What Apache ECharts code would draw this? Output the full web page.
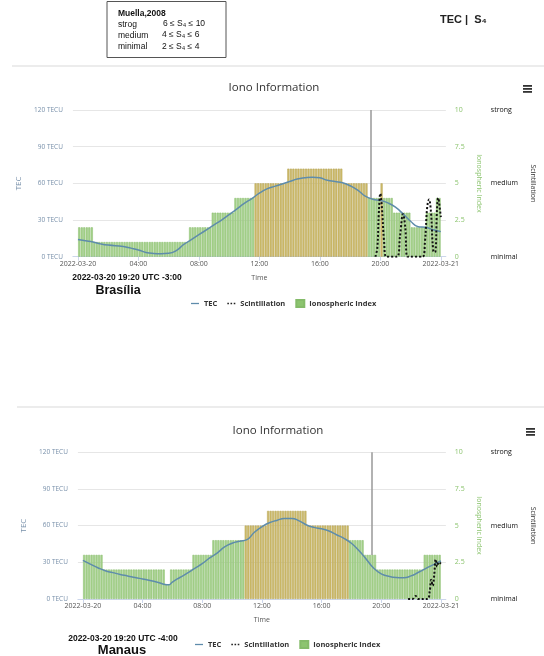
<!DOCTYPE html>
<html><head><meta charset="utf-8">
<script src="https://cdn.jsdelivr.net/npm/echarts@6/dist/echarts.min.js"></script>
<style>html,body{margin:0;padding:0;background:#fff}#c{width:544px;height:656px}</style>
</head><body><div id="c"></div>
<script>
// ---------- data ----------
const xTickHours = [0, 4, 8, 12, 16, 20, 24];
const xTickLabels = ['2022-03-20', '04:00', '08:00', '12:00', '16:00', '20:00', '2022-03-21'];
const scintLevelLabels = { 0: 'minimal', 5: 'medium', 10: 'strong' };
const markerHour = 19 + 20 / 60;   // 19:20
const slotMinutes = 10;             // ionospheric index sampled every 10 min

// Brasília
const ionoTop = [
  2,2,2,2,2,2,1,1,1,1,1,1,
  1,1,1,1,1,1,1,1,1,1,1,1,
  1,1,1,1,1,1,1,1,1,1,1,1,
  1,1,1,1,1,1,1,1,2,2,2,2,
  2,2,2,2,2,3,3,3,3,3,3,3,
  3,3,4,4,4,4,4,4,4,4,5,5,
  5,5,5,5,5,5,5,5,5,5,5,6,
  6,6,6,6,6,6,6,6,6,6,6,6,
  6,6,6,6,6,6,6,6,6,5,5,5,
  5,5,5,5,5,5,5,4,4,4,4,4,
  5,4,4,4,4,3,3,3,3,3,3,3,
  2,2,2,2,2,2,3,3,3,3,4,4
];
const tecHoursTop = [0,0.5,1,1.5,2,3,3.5,4,4.5,5,5.5,6,6.5,7,7.5,8,8.5,9,9.5,10,10.5,11,11.5,12,12.5,13,13.5,14,14.5,15,15.5,16,16.5,17,17.5,18,18.5,19,19.5,20,20.5,21,21.5,22,22.5,23,23.5,24];
const tecTop = [14,13,12,10.5,9.5,8.3,7,5.5,3.5,2.7,2.5,2.8,5,10,14,18,22,26,30,34.5,39,43.6,47.5,52,55.5,57.5,59.5,61.5,63.5,64.5,65,64.5,62.5,61.5,60.5,58,54.5,49.5,47,46,44,40.5,35,29,24.5,24,22,20.5];
const scintHoursTop = [19.67,19.8,19.9,20.0,20.1,20.25,20.4,21.1,21.3,21.5,21.65,21.8,22.8,22.95,23.1,23.22,23.35,23.5,23.62,23.75,23.83,23.92,24];
const scintTop = [0,0.6,3,4.3,3.4,1,0,0,1.4,2.9,2,0,0,1,3.4,3.9,3,0.4,0.3,3.3,4,3.4,2.7];

// Manaus
const ionoBottom = [
  3,3,3,3,3,3,3,3,2,2,2,2,
  2,2,2,2,2,2,2,2,2,2,2,2,
  2,2,2,2,2,2,2,2,2,1,1,2,
  2,2,2,2,2,2,2,2,3,3,3,3,
  3,3,3,3,4,4,4,4,4,4,4,4,
  4,4,4,4,4,5,5,5,5,5,5,5,
  5,5,6,6,6,6,6,6,6,6,6,6,
  6,6,6,6,6,6,5,5,5,5,5,5,
  5,5,5,5,5,5,5,5,5,5,5,4,
  4,4,4,4,4,3,3,3,3,3,2,2,
  2,2,2,2,2,2,2,2,2,2,2,2,
  2,2,2,2,2,3,3,3,3,3,3,3
];
const tecHoursBottom = [0,0.5,1,1.5,2,2.5,3,3.5,4,4.5,5,5.5,5.75,6,6.5,7,7.5,8,8.5,9,9.5,10,10.5,11,11.5,12,12.5,13,13.5,14,14.5,15,15.5,16,16.5,17,17.5,18,18.5,19,19.5,20,20.5,21,21.5,22,22.5,23,23.5,24];
const tecBottom = [31.5,28.5,25.5,23,21.5,20,18.8,17.5,16.3,15.1,13.6,11.8,11.5,13.8,17.5,21,25,28.8,33.5,37.5,42.5,45.5,47.2,48.5,54.5,59,62.3,64.2,65.8,65.8,63.8,60.5,58.5,57.3,55.5,52.5,49.5,45.5,39.5,32.5,25,20.5,18.5,17.5,17.3,18.8,21.8,25,28,31];
const scintHoursBottom = [21.8,22.1,22.3,22.5,23.1,23.25,23.35,23.45,23.55,23.65,23.75,23.85,24];
const scintBottom = [0,0,0.2,0,0,0.5,1.3,0.9,1.6,2.7,2.2,2.5,2.4];

// ---------- styles ----------
const FONT = '"Open Sans", "DejaVu Sans", sans-serif';
const ARIAL = '"Liberation Sans", Arial, sans-serif';
const GREEN = '#a9d48f', GREEN_B = '#84bb69';
const KHAKI = '#d0bd6c', KHAKI_B = '#b3a04e';
const TEC_C = '#5e8cab';
const LEFT_LAB = '#7890aa';
const RIGHT_LAB = '#8cc46f';

function pairs(h, v) { return h.map((x, i) => [x, v[i]]); }
function bars(vals) {
  return vals.map((v, i) => ({
    value: [(i * slotMinutes + slotMinutes / 2) / 60, v],
    itemStyle: v >= 5 ? { color: KHAKI, borderColor: KHAKI_B } : undefined
  }));
}

const grids = [
  { left: 72.9, top: 110, width: 374.2, height: 146.7 },
  { left: 77.9, top: 452.2, width: 374.2, height: 146.7 }
];

function xAxisFor(gi) {
  return {
    type: 'value', gridIndex: gi, min: -1/3, max: 24 + 1/3,
    name: 'Time', nameLocation: 'middle', nameGap: 18,
    nameTextStyle: { fontSize: 7, color: '#555', fontFamily: FONT },
    axisLine: { lineStyle: { color: '#ccd6eb' } },
    axisTick: { show: true, length: 4, lineStyle: { color: '#ccd6eb' }, customValues: xTickHours },
    splitLine: { show: false },
    axisLabel: {
      customValues: xTickHours, margin: 4, fontSize: 7, color: '#555', fontFamily: FONT,
      formatter: v => xTickLabels[xTickHours.indexOf(Math.round(v))] || ''
    }
  };
}
function yAxesFor(gi) {
  return [
    { type: 'value', gridIndex: gi, position: 'left', min: 0, max: 120, interval: 30,
      name: 'TEC', nameLocation: 'middle', nameGap: 39, nameRotate: 90,
      nameTextStyle: { fontSize: 8, color: LEFT_LAB, fontFamily: FONT },
      axisLabel: { formatter: '{value} TECU', fontSize: 6.5, color: LEFT_LAB, margin: 10, fontFamily: FONT },
      axisLine: { show: false }, axisTick: { show: false },
      splitLine: { lineStyle: { color: '#e6e6e6', width: 1 } } },
    { type: 'value', gridIndex: gi, position: 'right', min: 0, max: 10, interval: 2.5,
      name: 'Ionospheric Index', nameLocation: 'middle', nameGap: 23, nameRotate: -90,
      nameTextStyle: { fontSize: 7, color: RIGHT_LAB, fontFamily: FONT },
      axisLabel: { fontSize: 7, color: RIGHT_LAB, margin: 9, fontFamily: FONT },
      axisLine: { show: false }, axisTick: { show: false }, splitLine: { show: false } },
    { type: 'value', gridIndex: gi, position: 'right', min: 0, max: 10, interval: 5,
      name: 'Scintillation', nameLocation: 'middle', nameGap: 71, nameRotate: -90,
      nameTextStyle: { fontSize: 7, color: '#333', fontFamily: FONT },
      axisLabel: { fontSize: 7, color: '#111', margin: 45, fontFamily: FONT,
        formatter: v => scintLevelLabels[v] || '' },
      axisLine: { show: false }, axisTick: { show: false }, splitLine: { show: false } }
  ];
}
function seriesFor(gi, iono, tecH, tec, scH, sc) {
  const yb = gi * 3;
  // the "now" marker is hidden behind the bars, so it is visible from the top of the plot down to the bar at 19:20
  const barAtMarker = iono[Math.floor(markerHour * 60 / slotMinutes)];
  return [
    { type: 'line', xAxisIndex: gi, yAxisIndex: yb + 1, data: [], z: 1, silent: true,
      markLine: { symbol: ['none', 'none'], silent: true, label: { show: false },
        lineStyle: { color: '#999', width: 1.5, type: 'solid' },
        data: [[{ coord: [markerHour, 10] }, { coord: [markerHour, barAtMarker] }]] } },
    { name: 'Ionospheric Index', type: 'bar', xAxisIndex: gi, yAxisIndex: yb + 1,
      data: bars(iono), barCategoryGap: '18%', z: 2,
      itemStyle: { color: GREEN, borderColor: GREEN_B, borderWidth: 0.5 } },
    { name: 'TEC', type: 'line', xAxisIndex: gi, yAxisIndex: yb, data: pairs(tecH, tec),
      smooth: true, symbol: 'none', z: 3, color: TEC_C, lineStyle: { color: TEC_C, width: 1.5 } },
    { name: 'Scintillation', type: 'line', xAxisIndex: gi, yAxisIndex: yb + 1, data: pairs(scH, sc),
      smooth: 0.4, symbol: 'none', z: 4, color: '#111', lineStyle: { color: '#111', width: 2, type: 'dotted' } }
  ];
}
function legendFor(left, top) {
  return {
    left, top, itemWidth: 8, itemHeight: 7, itemGap: 10, symbolKeepAspect: true,
    data: [
      { name: 'TEC', icon: 'path://M0,0h10v1.6h-10z', itemStyle: { color: TEC_C } },
      { name: 'Scintillation', icon: 'path://M0,0h2v2h-2z M4,0h2v2h-2z M8,0h2v2h-2z', itemStyle: { color: '#222' } },
      { name: 'Ionospheric Index', icon: 'rect', itemStyle: { color: '#8cc46f' } }
    ],
    textStyle: { fontSize: 7.5, fontWeight: 'bold', color: '#333', fontFamily: FONT }
  };
}
function hamburger(x, y) {
  return [0, 3, 6].map(d => ({ type: 'rect', shape: { x, y: y + d, width: 9, height: 1.8 }, style: { fill: '#333' } }));
}
function txt(text, x, y, size, weight, family, align, color) {
  return { type: 'text', x, y, style: { text, fontSize: size, fontWeight: weight || 'normal',
    fontFamily: family || FONT, fill: color || '#222', align: align || 'center', verticalAlign: 'middle' } };
}

const graphic = [
  { type: 'line', shape: { x1: 12, y1: 66, x2: 544, y2: 66 }, style: { stroke: '#e6e6e6', lineWidth: 1.5 } },
  { type: 'line', shape: { x1: 17, y1: 407, x2: 544, y2: 407 }, style: { stroke: '#e6e6e6', lineWidth: 1.5 } },
  { type: 'rect', shape: { x: 107, y: 1.5, width: 119, height: 56 }, style: { fill: 'none', stroke: '#555', lineWidth: 1 } },
  txt('Muella,2008', 118, 14, 8.5, 'bold', ARIAL, 'left', '#111'),
  txt('strog', 118, 25, 8.5, 'normal', ARIAL, 'left', '#111'),
  txt('medium', 118, 36, 8.5, 'normal', ARIAL, 'left', '#111'),
  txt('minimal', 118, 47, 8.5, 'normal', ARIAL, 'left', '#111'),
  txt('6 ≤ S₄ ≤ 10', 163, 24, 8.5, 'normal', ARIAL, 'left', '#111'),
  txt('4 ≤ S₄ ≤ 6', 162, 35, 8.5, 'normal', ARIAL, 'left', '#111'),
  txt('2 ≤ S₄ ≤ 4', 162, 47, 8.5, 'normal', ARIAL, 'left', '#111'),
  txt('TEC |  S₄', 440, 20, 11, 'bold', ARIAL, 'left', '#222'),
  txt('Iono Information', 274, 88, 11.5, 'normal', FONT, 'center', '#333'),
  txt('Iono Information', 278, 431, 11.5, 'normal', FONT, 'center', '#333'),
  ...hamburger(523, 85),
  ...hamburger(526, 428),
  txt('2022-03-20 19:20 UTC -3:00', 127, 278, 8.5, 'bold', ARIAL, 'center', '#111'),
  txt('Brasília', 118, 291, 12.5, 'bold', ARIAL, 'center', '#111'),
  txt('2022-03-20 19:20 UTC -4:00', 123, 639, 8.5, 'bold', ARIAL, 'center', '#111'),
  txt('Manaus', 122, 650.5, 13, 'bold', ARIAL, 'center', '#111')
];

const chart = echarts.init(document.getElementById('c'), null, { renderer: 'canvas' });
chart.setOption({
  animation: false,
  backgroundColor: '#fff',
  grid: grids,
  xAxis: [xAxisFor(0), xAxisFor(1)],
  yAxis: [...yAxesFor(0), ...yAxesFor(1)],
  legend: [legendFor(186, 294), legendFor(190, 635)],
  series: [
    ...seriesFor(0, ionoTop, tecHoursTop, tecTop, scintHoursTop, scintTop),
    ...seriesFor(1, ionoBottom, tecHoursBottom, tecBottom, scintHoursBottom, scintBottom)
  ],
  graphic
});
</script></body></html>
